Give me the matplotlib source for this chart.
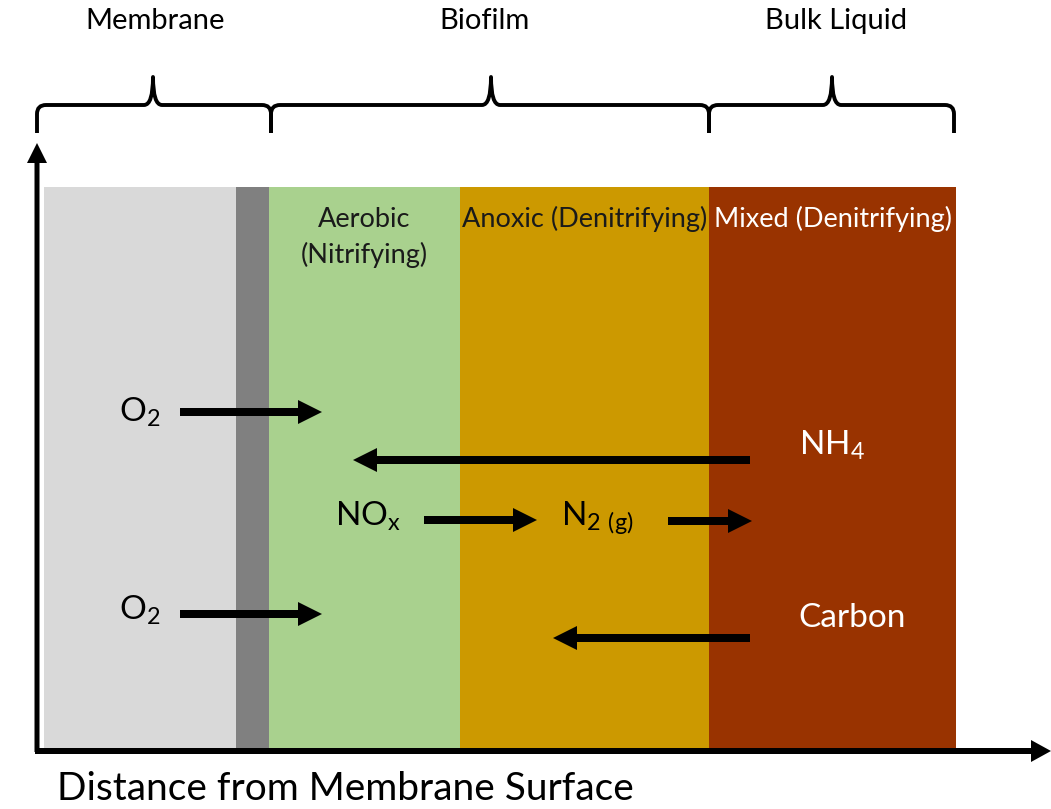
import matplotlib.pyplot as plt
from matplotlib.path import Path
from matplotlib.patches import PathPatch, Rectangle

plt.rcParams['font.family'] = ['Lato', 'DejaVu Sans']
plt.rcParams['mathtext.fontset'] = 'custom'
plt.rcParams['mathtext.rm'] = 'Lato'

# zones across the distance axis (pixel units of the 1051x809 canvas)
zone_edges = [44, 236, 269, 460, 709, 956]
zone_colors = ['#d9d9d9', '#808080', '#a9d18e', '#cc9900', '#993300']
zone_top, zone_bottom = 187, 748

zone_labels = ['', '', 'Aerobic\n(Nitrifying)', 'Anoxic (Denitrifying)', 'Mixed (Denitrifying)']
zone_label_colors = ['k', 'k', '#1a1a1a', '#1a1a1a', 'white']

# braces on top: (start, tip, end, label)
braces = [(37, 153, 271, 'Membrane'),
          (271, 491, 709, 'Biofilm'),
          (709, 832, 954, 'Bulk Liquid')]
brace_label_x = [155, 484, 836]

# species labels
species = [(140, 412, r'$\mathregular{O_2}$', 'k'),
           (140, 610, r'$\mathregular{O_2}$', 'k'),
           (832, 445, r'$\mathregular{NH_4}$', 'white'),
           (368, 516, r'$\mathregular{NO_x}$', 'k'),
           (597, 518, r'$\mathregular{N_{2\ (g)}}$', 'k'),
           (852, 618, 'Carbon', 'white')]

# flux arrows: (x_start, x_end, y)
arrows = [(180, 322, 412), (180, 322, 614), (750, 353, 460),
          (424, 537, 520), (668, 752, 521), (750, 553, 638)]

fig = plt.figure(figsize=(10.51, 8.09), dpi=100)
ax = fig.add_axes([0, 0, 1, 1])
ax.set_xlim(0, 1051)
ax.set_ylim(809, 0)
ax.axis('off')

for i, c in enumerate(zone_colors):
    ax.add_patch(Rectangle((zone_edges[i], zone_top), zone_edges[i + 1] - zone_edges[i],
                           zone_bottom - zone_top, color=c, lw=0))
    if zone_labels[i]:
        xc = (zone_edges[i] + zone_edges[i + 1]) / 2
        for j, line in enumerate(zone_labels[i].split('\n')):
            ax.text(xc, 219 + 36 * j, line, ha='center', va='center', fontsize=19.5,
                    color=zone_label_colors[i])

# braces
for (x0, xm, x1, lab), lx in zip(braces, brace_label_x):
    verts = [(x0, 133), (x0, 114), (x0, 105), (x0 + 9, 105),
             (xm - 9, 105), (xm, 105), (xm, 77),
             (xm, 105), (xm + 9, 105),
             (x1 - 9, 105), (x1, 105), (x1, 114), (x1, 133)]
    codes = [Path.MOVETO, Path.LINETO, Path.CURVE3, Path.CURVE3,
             Path.LINETO, Path.CURVE3, Path.CURVE3,
             Path.CURVE3, Path.CURVE3,
             Path.LINETO, Path.CURVE3, Path.CURVE3, Path.LINETO]
    ax.add_patch(PathPatch(Path(verts, codes), fill=False, lw=2.8, color='k',
                           capstyle='butt', joinstyle='round'))
    ax.text(lx, 21, lab, ha='center', va='center', fontsize=21)

# axes arrows
ax.arrow(37, 752, 0, -609, width=5, head_width=20, head_length=20,
         length_includes_head=True, color='k', lw=0)
ax.arrow(35, 751, 1016, 0, width=6, head_width=22, head_length=20,
         length_includes_head=True, color='k', lw=0)

for x, y, s, c in species:
    ax.text(x, y, s, ha='center', va='center', fontsize=24, color=c)

for xs, xe, y in arrows:
    ax.arrow(xs, y, xe - xs, 0, width=8, head_width=24, head_length=24,
             length_includes_head=True, color='k', lw=0)

ax.text(57, 789, 'Distance from Membrane Surface', ha='left', va='center', fontsize=28)

fig.savefig('out.png', dpi=100)
